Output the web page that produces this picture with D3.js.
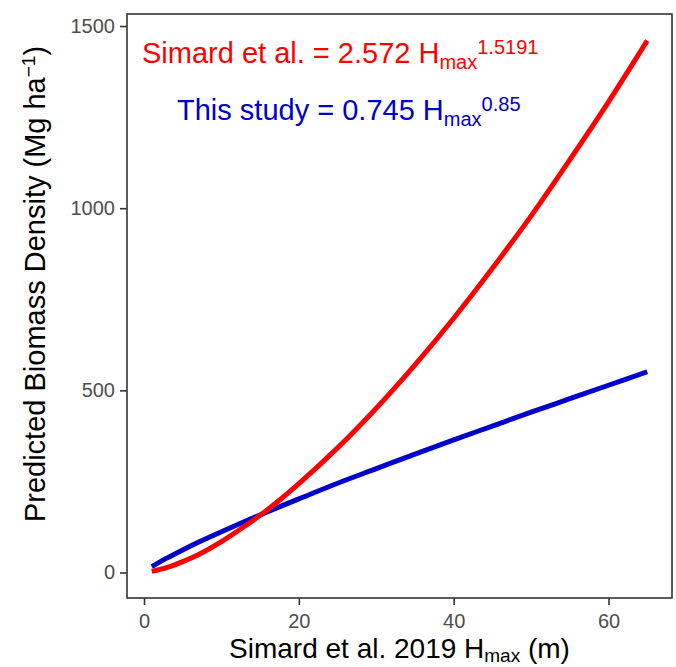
<!DOCTYPE html>
<html>
<head>
<meta charset="utf-8">
<script src="https://cdn.jsdelivr.net/npm/d3@7"></script>
<style>
  body { margin: 0; background: #fff; }
  text { font-family: "Liberation Sans", Arial, sans-serif; }
</style>
</head>
<body>
<div id="chart"></div>
<script>
// values
var hmax = [1, 3, 5, 7, 10, 13, 15, 17, 20, 25, 30, 35, 40, 45, 50, 55, 60, 65];
var simardBiomass = [3, 14, 30, 49, 85, 127, 157, 190, 244, 342, 451, 570, 698, 835, 979, 1133, 1292, 1460];
var studyBiomass = [16, 40, 62, 83, 112, 140, 158, 176, 202, 245, 285, 325, 364, 402, 440, 477, 514, 551];
var xTicks = [0, 20, 40, 60];
var yTicks = [0, 500, 1000, 1500];

var svgWidth = 676;
var svgHeight = 667;
var margin = {top: 14, right: 4, bottom: 69, left: 127};
var chart_width = svgWidth - margin.left - margin.right;
var chart_height = svgHeight - margin.top - margin.bottom;

var SVG = d3.select("#chart")
  .append("svg")
  .attr("width", svgWidth)
  .attr("height", svgHeight);

SVG.append("rect").attr("width", svgWidth).attr("height", svgHeight).attr("fill", "#fff");

var chart_group = SVG.append("g")
  .attr("transform", `translate(${margin.left}, ${margin.top})`);

var xScale = d3.scaleLinear().domain([-2.2, 68.2]).range([0, chart_width]);
var yScale = d3.scaleLinear().domain([-70, 1533]).range([chart_height, 0]);

// axes
var xAxis = d3.axisBottom(xScale).tickValues(xTicks).tickFormat(d3.format("d")).tickSize(7).tickPadding(5);
var yAxis = d3.axisLeft(yScale).tickValues(yTicks).tickFormat(d3.format("d")).tickSize(7).tickPadding(5);

var gx = chart_group.append("g")
  .attr("transform", `translate(0, ${chart_height})`)
  .call(xAxis);
var gy = chart_group.append("g").call(yAxis);

[gx, gy].forEach(function(g) {
  g.select(".domain").remove();
  g.selectAll(".tick line").attr("stroke", "#333").attr("stroke-width", 1.6);
  g.selectAll(".tick text").attr("fill", "#4d4d4d").style("font-size", "20px");
});
gx.selectAll(".tick text").attr("dy", "0.9em");

// curves
var pts = function(vals) { return hmax.map(function(h, i) { return [h, vals[i]]; }); };
var line = d3.line()
  .x(d => xScale(d[0]))
  .y(d => yScale(d[1]))
  .curve(d3.curveMonotoneX);

chart_group.append("path")
  .datum(pts(studyBiomass))
  .attr("d", line)
  .attr("fill", "none")
  .attr("stroke", "#0000cd")
  .attr("stroke-width", 5);

chart_group.append("path")
  .datum(pts(simardBiomass))
  .attr("d", line)
  .attr("fill", "none")
  .attr("stroke", "#ff0000")
  .attr("stroke-width", 5);

// panel border
chart_group.append("rect")
  .attr("width", chart_width)
  .attr("height", chart_height)
  .attr("fill", "none")
  .attr("stroke", "#333")
  .attr("stroke-width", 1.6);

// equations
function equation(x, y, color, lead, coef, expo) {
  var t = SVG.append("text")
    .attr("x", x).attr("y", y)
    .attr("fill", color)
    .style("font-size", "29px");
  t.append("tspan").text(lead + " = " + coef + " H");
  t.append("tspan").attr("dy", 6).style("font-size", "20px").text("max");
  t.append("tspan").attr("dy", -15).style("font-size", "20px").text(expo);
}
equation(142, 63, "#ff0000", "Simard et al.", "2.572", "1.5191");
equation(177, 120, "#0000cd", "This study", "0.745", "0.85");

// x-axis label
var xl = SVG.append("text")
  .attr("x", margin.left + chart_width / 2)
  .attr("y", 658)
  .attr("text-anchor", "middle")
  .style("font-size", "28px")
  .attr("fill", "#000");
xl.append("tspan").text("Simard et al. 2019 H");
xl.append("tspan").attr("dy", 4).style("font-size", "19px").text("max");
xl.append("tspan").attr("dy", -4).text(" (m)");

// y-axis label
var yl = SVG.append("text")
  .attr("transform", "translate(45, 284) rotate(-90)")
  .attr("text-anchor", "middle")
  .style("font-size", "29px")
  .attr("fill", "#000");
yl.append("tspan").text("Predicted Biomass Density (Mg ha");
yl.append("tspan").attr("dy", -10).style("font-size", "19px").text("\u22121");
yl.append("tspan").attr("dy", 10).text(")");
</script>
</body>
</html>
